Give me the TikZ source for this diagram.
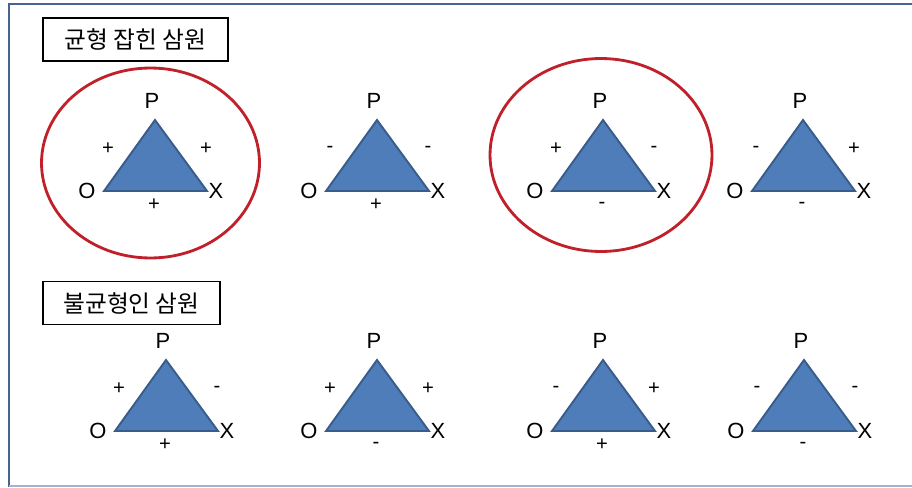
\documentclass[tikz,border=0pt]{standalone}
\usepackage{fontspec}
\setmainfont{Liberation Sans}
\newfontfamily\krfont{Noto Sans CJK KR}
\definecolor{triblue}{RGB}{79,125,185}
\definecolor{triedge}{RGB}{56,93,138}
\definecolor{balred}{RGB}{192,32,42}
\definecolor{frameblue}{RGB}{70,100,140}
\definecolor{framelight}{RGB}{160,180,205}
\tikzset{
  triad/.style={fill=triblue, draw=triedge, line width=1.1pt, line join=miter},
  vlabel/.style={font=\fontsize{12.5}{14}\selectfont, inner sep=0pt},
  slabel/.style={font=\fontsize{11.5}{13}\selectfont, inner sep=0pt},
  balance/.style={draw=balred, line width=1.6pt},
  titlebox/.style={draw, line width=0.8pt, inner sep=0pt, minimum height=0.86cm,
    font=\krfont\fontsize{13.5}{15}\selectfont}
}
\begin{document}
\begin{tikzpicture}[x=0.02cm, y=-0.02cm]
\useasboundingbox (0,0) rectangle (912,487);
% outer frame
\draw[frameblue, line width=1.6pt] (9,487) -- (9,4) -- (912,4);
\draw[framelight, line width=1pt] (9,486) -- (912,486);

% titles
\node[titlebox, minimum width=3.7cm] (balanced) at (135.5,39.5) {균형 잡힌 삼원};
\node[titlebox, minimum width=3.54cm] (unbalanced) at (131.5,303) {불균형인 삼원};

% balanced triads are circled
\draw[balance] (150.5,163) ellipse [x radius=2.18cm, y radius=1.9cm];
\draw[balance] (601,155) ellipse [x radius=2.22cm, y radius=1.93cm];

% the eight triads: apex x/apex y/left sign/right sign/bottom sign
\foreach \ax/\ay/\sl/\sr/\sb [count=\i] in
  {155/120/+/+/+, 377/120/-/-/+, 603/120/+/-/-, 803/120/-/+/-,
   166/360/+/-/+, 377/360/+/+/-, 603/360/-/+/+, 804/360/-/-/-}
{
  \coordinate (apex\i) at (\ax,\ay);
  \coordinate (left\i) at (\ax-51,\ay+71);
  \coordinate (right\i) at (\ax+52,\ay+71);
  \draw[triad] (apex\i) -- (right\i) -- (left\i) -- cycle;
  \node[vlabel] (P\i) at (\ax-3,\ay-19) {P};
  \node[vlabel] (O\i) at (\ax-68,\ay+71) {O};
  \node[vlabel] (X\i) at (\ax+61,\ay+71) {X};
  \node[slabel] (sl\i) at (\ax-47,\ay+29) {\sl};
  \node[slabel] (sr\i) at (\ax+51,\ay+29) {\sr};
  \node[slabel] (sb\i) at (\ax-1,\ay+85) {\sb};
}
\end{tikzpicture}
\end{document}
